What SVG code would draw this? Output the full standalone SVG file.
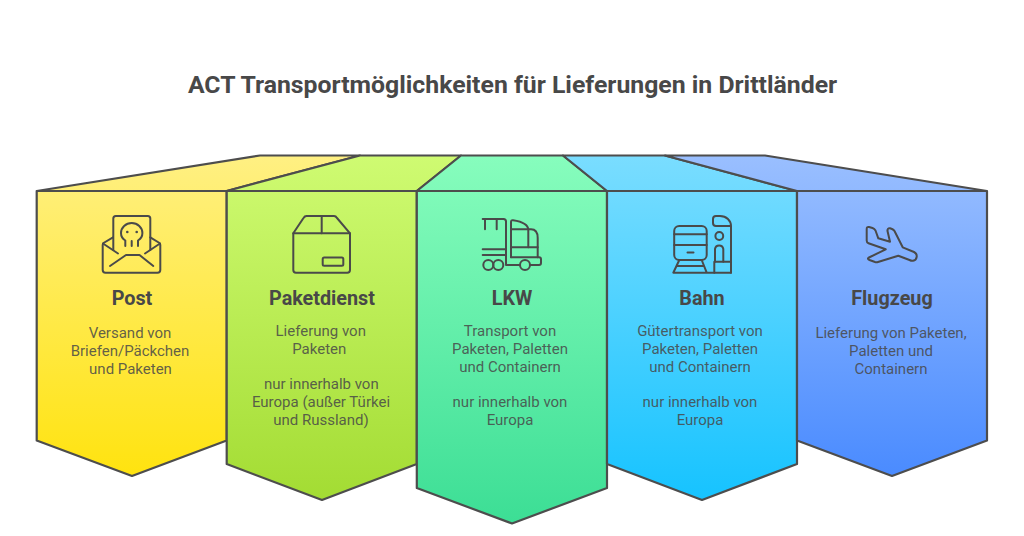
<svg xmlns="http://www.w3.org/2000/svg" width="1024" height="536" viewBox="0 0 1024 536">
<style>
text{font-family:Roboto,"Liberation Sans",sans-serif;fill:#484848;text-anchor:middle}
.title{font-size:24.800px;font-weight:700}
.head{font-size:19.800px;font-weight:700}
.body{font-size:15px;fill-opacity:.86}
.shape{stroke:#4d4d4d;stroke-width:2.2;stroke-linejoin:round}
.icon{fill:none;stroke:#4a4a4a;stroke-width:2;stroke-linecap:round;stroke-linejoin:round}
.dot{fill:#4a4a4a}
</style>
<defs>
<linearGradient id="g1" gradientUnits="userSpaceOnUse" x1="0" y1="155" x2="0" y2="476"><stop offset="0" stop-color="#FFF083"/><stop offset="1" stop-color="#FFE30F"/></linearGradient>
<linearGradient id="g2" gradientUnits="userSpaceOnUse" x1="0" y1="155" x2="0" y2="500"><stop offset="0" stop-color="#CFFB72"/><stop offset="1" stop-color="#A3DC33"/></linearGradient>
<linearGradient id="g3" gradientUnits="userSpaceOnUse" x1="0" y1="155" x2="0" y2="524"><stop offset="0" stop-color="#87FDBD"/><stop offset="1" stop-color="#3CDE95"/></linearGradient>
<linearGradient id="g4" gradientUnits="userSpaceOnUse" x1="0" y1="155" x2="0" y2="500"><stop offset="0" stop-color="#7ADDFF"/><stop offset="1" stop-color="#16C3FF"/></linearGradient>
<linearGradient id="g5" gradientUnits="userSpaceOnUse" x1="0" y1="155" x2="0" y2="476"><stop offset="0" stop-color="#9ABFFF"/><stop offset="1" stop-color="#4A8BFF"/></linearGradient>
</defs>
<rect width="1024" height="536" fill="#fff"/>
<text class="title" x="512.500" y="93">ACT Transportmöglichkeiten für Lieferungen in Drittländer</text>

<g id="node-post">
<path class="shape" fill="url(#g1)" d="M36.700,191 L260,155.500 H360 L226.700,191 V440.500 L132,476 L36.700,440.500 Z"/>
<path class="shape" fill="none" d="M36.700,191 H226.700"/>
<g class="icon">
<path d="M113,237.300 L103.500,243 Q102.700,243.700 102.700,245 V270 Q102.700,272.700 105.500,272.700 H157.500 Q160.300,272.700 160.300,270 V245 Q160.300,243.700 159.500,243 L150.300,237.300"/>
<path d="M103,243.500 L118,253.500 M160,243.500 L145,253.500"/>
<path d="M110,266 L126,255 H139.500 L153.300,266"/>
<path d="M113.300,250 V218.500 Q113.300,216 115.800,216 H147.800 Q150.300,216 150.300,218.500 V250"/>
<path d="M125.300,246 V240.500 C122,238.500 121,236 121,233 A10.700,10 0 0 1 142.400,233 C142.400,236 141.400,238.500 138,240.500 V246 M131.700,241 V246"/>
</g>
<circle class="dot" cx="127.300" cy="232" r="1.300"/><circle class="dot" cx="136.700" cy="232" r="1.300"/>
<text class="head" x="132" y="304.500">Post</text>
<text class="body" x="130" y="338">Versand von</text>
<text class="body" x="130" y="356">Briefen/Päckchen</text>
<text class="body" x="130.500" y="374">und Paketen</text>
</g>

<g id="node-paketdienst">
<path class="shape" fill="url(#g2)" d="M226.700,191 L360,155.500 H461 L416.800,191 V464 L322,500 L226.700,464 Z"/>
<path class="shape" fill="none" d="M226.700,191 H416.800"/>
<g class="icon">
<path d="M293.300,233.300 H350 V270 Q350,272.700 347.300,272.700 H296 Q293.300,272.700 293.300,270 Z"/>
<path d="M293.300,233.300 L303.500,218 Q304.700,216 306.500,216 H334 Q335.800,216 337,218 L350,233.300"/>
<path d="M321.700,216 V233.300"/>
<rect x="322.700" y="257.400" width="20.600" height="8.300" rx="1.500"/>
</g>
<text class="head" x="322" y="304.500">Paketdienst</text>
<text class="body" x="320.700" y="336">Lieferung von</text>
<text class="body" x="319.300" y="353.500">Paketen</text>
<text class="body" x="321.300" y="389">nur innerhalb von</text>
<text class="body" x="321" y="407">Europa (außer Türkei</text>
<text class="body" x="321" y="424.500">und Russland)</text>
</g>

<g id="node-lkw">
<path class="shape" fill="url(#g3)" d="M416.800,191 L461,155.500 H563 L607,191 V488 L512,523.500 L416.800,488 Z"/>
<path class="shape" fill="none" d="M416.800,191 H607"/>
<g class="icon">
<path d="M482.700,219 H503.500 Q506,219 506,221.500 V265 H520 M530,265 H531"/>
<path d="M485,219 V229.300 M496.700,219 V229.300"/>
<path d="M482.700,249.300 H506 M482.700,255 H506"/>
<path d="M511,257.300 V222 Q511,220 513,220.300 C521,221.500 528.300,224 528.300,230 V247.300"/>
<path d="M511,229.300 H531 C535.500,229.300 537.700,233 537.700,238 V257.300"/>
<path d="M511,247.300 H537.700"/>
<path d="M511,257.300 H539 Q541,257.300 541,259.300 V263 Q541,265 539,265 H531"/>
<circle cx="488.300" cy="265" r="5"/><circle cx="498.300" cy="265" r="5"/><circle cx="525" cy="265" r="5"/>
</g>
<text class="head" x="512" y="304.500">LKW</text>
<text class="body" x="510" y="336">Transport von</text>
<text class="body" x="510" y="353.500">Paketen, Paletten</text>
<text class="body" x="510" y="371.500">und Containern</text>
<text class="body" x="510" y="406.500">nur innerhalb von</text>
<text class="body" x="510" y="424.500">Europa</text>
</g>

<g id="node-bahn">
<path class="shape" fill="url(#g4)" d="M607,191 L563,155.500 H665 L797,191 V464 L702,500 L607,464 Z"/>
<path class="shape" fill="none" d="M607,191 H797"/>
<g class="icon">
<rect x="674.200" y="226" width="32.500" height="34" rx="5"/>
<path d="M674.200,234.300 H706.700 M674.200,245 H706.700 M687.500,252.400 H693.500"/>
<path d="M679.300,260 L673.300,272.700 H731 M701.700,260 L706.700,272.700 M676.500,266 H704"/>
<path d="M731,226 H716 Q713,226 713,223 V219 Q713,216 716,216 H720 C726.500,216 731,220.500 731,226 V272.700"/>
<circle cx="719.300" cy="236" r="3.900"/>
<path d="M715,261.700 V249 A4.200,4.200 0 0 1 723.300,249 V261.700"/>
<path d="M714.300,272.700 V261.700 H731"/>
</g>
<text class="head" x="702" y="304.500">Bahn</text>
<text class="body" x="700" y="336">Gütertransport von</text>
<text class="body" x="700" y="353.500">Paketen, Paletten</text>
<text class="body" x="700" y="371.500">und Containern</text>
<text class="body" x="700" y="406.500">nur innerhalb von</text>
<text class="body" x="700" y="424.500">Europa</text>
</g>

<g id="node-flugzeug">
<path class="shape" fill="url(#g5)" d="M797,191 L665,155.500 H765 L987,191 V440.500 L892,476 L797,440.500 Z"/>
<path class="shape" fill="none" d="M797,191 H987"/>
<path class="icon" d="M866.700,229 Q866.700,226.500 869,227 L872.500,228 Q874.500,228.700 875.500,230.500 L878.300,238.300 L890,241.700 L887.500,231 Q887.200,228 890,228.300 L892,229 Q893.700,229.700 894.500,231 L902.700,247.300 L914,252 C918,254 917.500,260 913,260.700 Q911.500,261 909.500,260 L898.300,255.700 L878,262 Q876.500,262.500 875,262 L869.500,260 Q866.700,258.700 869,257.500 L885.700,249.300 L868.500,243.300 Q866.700,242.700 866.700,240.500 Z"/>
<text class="head" x="892" y="304.500">Flugzeug</text>
<text class="body" x="891" y="338">Lieferung von Paketen,</text>
<text class="body" x="891" y="356">Paletten und</text>
<text class="body" x="891" y="374">Containern</text>
</g>
<g id="connectors"/>
</svg>
